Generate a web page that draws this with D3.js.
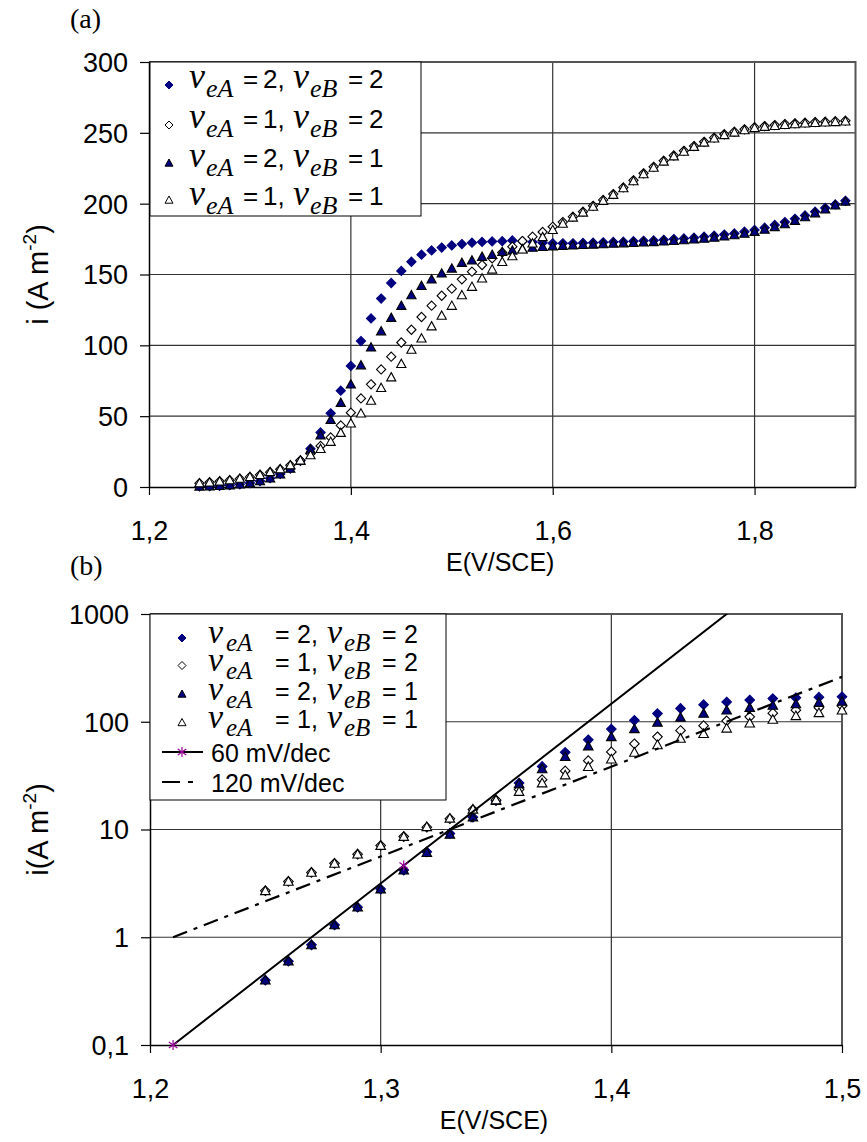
<!DOCTYPE html>
<html><head><meta charset="utf-8">
<script src="https://cdn.jsdelivr.net/npm/d3@7/dist/d3.min.js"></script>
<style>body{margin:0;background:#fff} text{white-space:pre}</style>
</head><body>
<svg id="c" width="867" height="1142" xmlns="http://www.w3.org/2000/svg"></svg>
<script>
// ---------- DATA ----------
const E = [1.25,1.26,1.27,1.28,1.29,1.30,1.31,1.32,1.33,1.34,
 1.35,1.36,1.37,1.38,1.39,1.40,1.41,1.42,1.43,1.44,
 1.45,1.46,1.47,1.48,1.49,1.50,1.51,1.52,1.53,1.54,
 1.55,1.56,1.57,1.58,1.59,1.60,1.61,1.62,1.63,1.64,
 1.65,1.66,1.67,1.68,1.69,1.70,1.71,1.72,1.73,1.74,
 1.75,1.76,1.77,1.78,1.79,1.80,1.81,1.82,1.83,1.84,
 1.85,1.86,1.87,1.88,1.89];
// nu_eA = 2, nu_eB = 2 (filled diamond)
const iA2B2 = [0.4,0.6,0.85,1.3,1.9,2.8,4.2,6.2,9.2,13,
 18.5,27,38.5,52,68,85.5,103,119,133,144,
 152.5,159,164,167,169,170.5,171.5,172.5,173,173.3,
 173.5,174,173.5,173,172.5,172,172,172,172.3,172.5,
 172.7,173,173.2,173.5,173.8,174,174.5,175,175.5,176,
 176.7,177.4,178.2,179,180.2,181.5,183,185,187,189.3,
 191.7,194.3,197,199.5,202];
// nu_eA = 1, nu_eB = 2 (open diamond)
const iA1B2 = [2.7,3.3,4.0,4.85,5.9,7.1,8.6,10.5,12.6,15.3,
 18.8,23.5,29,35,43.5,52.5,62.5,72.5,83,92,
 102,111,120,128,135,140,146.6,152,156.7,161.4,
 165.5,169.6,173.6,176.7,180,183.7,187,190.8,194.3,198.5,
 202.6,206.8,211.5,216.5,221.4,226,230.3,234,237.3,240.7,
 243.7,246.6,249,250.8,252.5,254,254.8,255.5,256.2,256.7,
 257.2,257.6,257.9,258.2,258.6];
// nu_eA = 2, nu_eB = 1 (filled triangle)
const iA2B1 = [0.4,0.6,0.85,1.3,1.9,2.8,4.2,6.1,9,13,
 18.5,26.5,36.5,47.5,59.5,72.5,86,98.6,110,119.5,
 128,135.5,142,146.6,150.8,154.3,158.3,160,162.6,164,
 166,167,168,169,169.5,170,170.3,170.6,170.9,171.2,
 171.5,171.8,172.1,172.4,172.7,173,173.4,173.8,174.3,174.8,
 175.4,176.1,176.9,177.8,178.9,180.2,181.7,183.6,185.6,188,
 190.5,193.3,196,198.8,201.5];
// nu_eA = 1, nu_eB = 1 (open triangle)
const iA1B1 = [2.7,3.3,4.0,4.85,5.9,7.1,8.6,10.6,12.7,15.4,
 18.8,22.5,27,32,38.3,45,52,61,70,77.5,
 87,97,105,113.5,121,128,135.5,141.4,147.3,153.6,
 159,163,167.8,172,176.5,181.5,186,190.3,193.8,198,
 202.1,206.3,211,216,220.9,225.5,229.8,233.5,236.8,240.2,
 243.2,246.1,248.5,250.3,252,253.5,254.3,255,255.7,256.2,
 256.7,257.1,257.4,257.7,258.1];
const nuA = [2, 1, 2, 1];
const nuB = [2, 2, 1, 1];
// Tafel lines (panel b)
const E60 = [1.21, 1.31, 1.51];
const I60 = [0.1, 4.64, 10000];
const E120 = [1.21, 1.50];
const I120 = [1, 261];
const lineNames = ["60 mV/dec", "120 mV/dec"];
// ticks
const xTicksA = [1.2, 1.4, 1.6, 1.8];
const xLabelsA = ["1,2", "1,4", "1,6", "1,8"];
const yTicksA = [0, 50, 100, 150, 200, 250, 300];
const xTicksB = [1.2, 1.3, 1.4, 1.5];
const xLabelsB = ["1,2", "1,3", "1,4", "1,5"];
const yTicksB = [0.1, 1, 10, 100, 1000];
const yLabelsB = ["0,1", "1", "10", "100", "1000"];
const xTitle = "E(V/SCE)";
const panelA = "(a)", panelB = "(b)";

// ---------- HELPERS ----------
const svg = d3.select("#c");
const SANS = "'Liberation Sans', Arial, sans-serif";
const SERIF = "'Liberation Serif', 'Times New Roman', serif";
const NAVY = "#000080";
const seriesVals = [iA2B2, iA1B2, iA2B1, iA1B1];
const seriesStyle = [
  {shape: "diamond", fill: NAVY, stroke: NAVY},
  {shape: "diamond", fill: "#fff", stroke: "#000"},
  {shape: "triangle", fill: NAVY, stroke: "#000"},
  {shape: "triangle", fill: "#fff", stroke: "#000"}
];
function markerPath(shape, r) {
  if (shape === "diamond") return `M0,${-r}L${r},0L0,${r}L${-r},0Z`;
  if (shape === "triangle") return `M0,${-r}L${r},${r*0.8}L${-r},${r*0.8}Z`;
  return "";
}
function drawStar(g, x, y, r) {
  const s = g.append("g").attr("transform", `translate(${x},${y})`)
    .attr("stroke", "#990099").attr("stroke-width", 1.2);
  s.append("line").attr("x1", 0).attr("y1", -r).attr("x2", 0).attr("y2", r);
  s.append("line").attr("x1", -r*0.85).attr("y1", -r*0.6).attr("x2", r*0.85).attr("y2", r*0.6);
  s.append("line").attr("x1", -r*0.85).attr("y1", r*0.6).attr("x2", r*0.85).attr("y2", -r*0.6);
}
// legend label "ν_eA = a, ν_eB = b", pieces placed at offsets dx from x
function nuText(g, x, y, a, b, o) {
  const t = g.append("text").attr("y", y).attr("fill", "#000");
  const pieces = [
    {s: "ν", f: SERIF, it: true, fs: o.nu, sub: 0},
    {s: "eA", f: SERIF, it: true, fs: o.sub, sub: 1},
    {s: "=", f: SANS, it: false, fs: o.sans, sub: 0},
    {s: a + ",", f: SANS, it: false, fs: o.sans, sub: 0},
    {s: "ν", f: SERIF, it: true, fs: o.nu, sub: 0},
    {s: "eB", f: SERIF, it: true, fs: o.sub, sub: 1},
    {s: "=", f: SANS, it: false, fs: o.sans, sub: 0},
    {s: String(b), f: SANS, it: false, fs: o.sans, sub: 0}
  ];
  pieces.forEach((p, k) => {
    t.append("tspan").attr("x", x + o.dx[k]).attr("y", y + (p.sub ? o.dy : 0))
      .attr("font-family", p.f).attr("font-style", p.it ? "italic" : "normal")
      .attr("font-size", p.fs).text(p.s);
  });
}

function panel(cfg) {
  const g = svg.append("g");
  const x = cfg.x, y = cfg.y;
  const [x0, x1] = x.range(), [y0, y1] = y.range(); // y0 bottom, y1 top
  g.selectAll(".hg").data(cfg.yTicks.slice(1)).join("line")
    .attr("x1", x0).attr("x2", x1).attr("y1", d => y(d)).attr("y2", d => y(d))
    .attr("stroke", "#333").attr("stroke-width", 1.2);
  g.selectAll(".vg").data(cfg.xTicks.slice(1)).join("line")
    .attr("x1", d => x(d)).attr("x2", d => x(d)).attr("y1", y0).attr("y2", y1)
    .attr("stroke", "#333").attr("stroke-width", 1.2);
  g.append("path").attr("d", `M${x0},${y1}H${x1}V${y0}`).attr("fill", "none")
    .attr("stroke", "#555").attr("stroke-width", 2);
  const ax = g.append("g").attr("transform", `translate(0,${y0})`)
    .call(d3.axisBottom(x).tickValues(cfg.xTicks).tickSize(8).tickSizeOuter(0)
      .tickFormat((d, i) => cfg.xLabels[i]));
  const ay = g.append("g").attr("transform", `translate(${x0},0)`)
    .call(d3.axisLeft(y).tickValues(cfg.yTicks).tickSize(9).tickSizeOuter(0)
      .tickFormat((d, i) => cfg.yLabels[i]));
  [ax, ay].forEach(a => {
    a.select(".domain").attr("stroke", "#000").attr("stroke-width", 1.5);
    a.selectAll(".tick line").attr("stroke", "#000").attr("stroke-width", 1.2);
    a.selectAll("text").attr("font-family", SANS).attr("font-size", 27).attr("fill", "#000");
  });
  ax.selectAll("text").attr("dy", null).attr("y", 53);
  ay.selectAll("text").attr("x", -21).attr("dy", "0.35em");
  g.append("text").attr("x", (x0 + x1) / 2 - 2).attr("y", y0 + 84).attr("text-anchor", "middle")
    .attr("font-family", SANS).attr("font-size", 25).text(xTitle);
  const yt = g.append("text").attr("transform", `translate(48,${(y0 + y1) / 2}) rotate(-90)`)
    .attr("text-anchor", "middle").attr("font-family", SANS).attr("font-size", 29);
  yt.append("tspan").text(cfg.yTitle);
  yt.append("tspan").attr("font-size", 19).attr("dy", -12).text("-2");
  yt.append("tspan").attr("dy", 12).text(")");
  g.append("text").attr("x", 70).attr("y", cfg.tagY).attr("font-family", SERIF)
    .attr("font-size", 28).text(cfg.tag);
  const clipId = "clip" + cfg.id;
  svg.append("clipPath").attr("id", clipId).append("rect")
    .attr("x", x0).attr("y", y1).attr("width", x1 - x0).attr("height", y0 - y1);
  const dg = g.append("g");
  seriesVals.forEach((vals, si) => {
    const st = seriesStyle[si];
    const pts = E.map((e, k) => ({e, v: vals[k]})).filter(p => p.e <= cfg.maxE + 1e-9);
    dg.append("g").selectAll("path").data(pts).join("path")
      .attr("transform", p => `translate(${x(p.e)},${y(p.v)})`)
      .attr("d", markerPath(st.shape, cfg.r))
      .attr("fill", st.fill).attr("stroke", st.stroke).attr("stroke-width", 1.1);
  });
  return {g, clipId};
}

// ---------- PANEL A ----------
const xA = d3.scaleLinear().domain([1.2, 1.9]).range([149, 855.5]);
const yA = d3.scaleLinear().domain([0, 300]).range([487, 62]);
const pa = panel({id: "a", x: xA, y: yA, xTicks: xTicksA, xLabels: xLabelsA,
  yTicks: yTicksA, yLabels: yTicksA.map(String), yTitle: "i (A m", tag: panelA, tagY: 28,
  maxE: 1.9, r: 4.6});
{
  const lg = pa.g.append("g");
  lg.append("rect").attr("x", 150).attr("y", 62).attr("width", 271).attr("height", 154)
    .attr("fill", "#fff").attr("stroke", "#000").attr("stroke-width", 1);
  const base = [88, 128, 167, 205], mk = [85, 125, 163, 200];
  seriesStyle.forEach((st, i) => {
    lg.append("path").attr("transform", `translate(169,${mk[i]})`)
      .attr("d", markerPath(st.shape, 4)).attr("fill", st.fill).attr("stroke", st.stroke).attr("stroke-width", 1);
    nuText(lg, 187, base[i], nuA[i], nuB[i], {nu: 36, sub: 26, sans: 26, dy: 9,
      dx: [2, 19, 56, 76, 106, 123, 161, 182]});
  });
}

// ---------- PANEL B ----------
const xB = d3.scaleLinear().domain([1.2, 1.5]).range([150, 842]);
const yB = d3.scaleLog().domain([0.1, 1000]).range([1045, 614]);
const pb = panel({id: "b", x: xB, y: yB, xTicks: xTicksB, xLabels: xLabelsB,
  yTicks: yTicksB, yLabels: yLabelsB, yTitle: "i(A m", tag: panelB, tagY: 575,
  maxE: 1.5, r: 4.8});
{
  const lg = pb.g.append("g").attr("clip-path", `url(#${pb.clipId})`);
  const line = d3.line().x(d => xB(d[0])).y(d => yB(d[1]));
  lg.append("path").attr("d", line(E60.map((e, k) => [e, I60[k]])))
    .attr("fill", "none").attr("stroke", "#000").attr("stroke-width", 2);
  lg.append("path").attr("d", line(E120.map((e, k) => [e, I120[k]])))
    .attr("fill", "none").attr("stroke", "#000").attr("stroke-width", 2.2)
    .attr("stroke-dasharray", "15,7,4,7");
  const [d0, d1] = yB.domain();
  E60.forEach((e, k) => {
    if (I60[k] >= d0 && I60[k] <= d1) drawStar(pb.g, xB(e), yB(I60[k]), 5);
  });
}
{
  const lg = pb.g.append("g");
  lg.append("rect").attr("x", 150).attr("y", 614).attr("width", 296).attr("height", 186)
    .attr("fill", "#fff").attr("stroke", "#000").attr("stroke-width", 1);
  const base = [643, 671, 700, 728], mk = [638, 665.5, 694, 722.5];
  seriesStyle.forEach((st, i) => {
    lg.append("path").attr("transform", `translate(182,${mk[i]})`)
      .attr("d", markerPath(st.shape, 4)).attr("fill", st.fill).attr("stroke", st.stroke).attr("stroke-width", 1);
    nuText(lg, 206, base[i], nuA[i], nuB[i], {nu: 34, sub: 25, sans: 25, dy: 8,
      dx: [2, 20, 69, 91, 121, 138, 176, 198]});
  });
  lg.append("line").attr("x1", 162).attr("x2", 203).attr("y1", 752).attr("y2", 752)
    .attr("stroke", "#000").attr("stroke-width", 2);
  drawStar(lg, 182, 752, 5);
  lg.append("line").attr("x1", 162).attr("x2", 203).attr("y1", 782).attr("y2", 782)
    .attr("stroke", "#000").attr("stroke-width", 2.2).attr("stroke-dasharray", "18,8,5,20");
  lg.append("text").attr("x", 211).attr("y", 762).attr("font-family", SANS).attr("font-size", 25).text(lineNames[0]);
  lg.append("text").attr("x", 211).attr("y", 792).attr("font-family", SANS).attr("font-size", 25).text(lineNames[1]);
}
</script>
</body></html>
